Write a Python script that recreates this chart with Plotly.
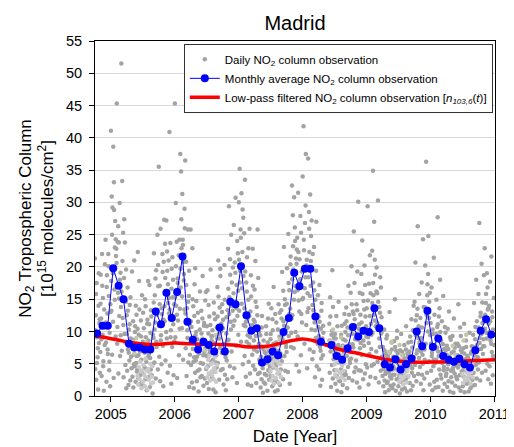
import calendar
import pandas as pd
import plotly.graph_objects as go

# ---------------- data ----------------
MONTHS = [f"{y}-{m:02d}" for y in range(2004, 2011) for m in range(1, 13)
          if (y, m) >= (2004, 10)]

MONTHLY = [9.7, 10.9, 10.9,
           19.8, 17.1, 15.0, 8.1, 7.5, 7.5, 7.2, 7.2, 13.1, 11.1, 16.0, 12.1,
           16.1, 21.6, 11.5, 8.7, 7.2, 8.4, 7.9, 6.9, 10.6, 6.9, 14.6, 14.2,
           20.1, 12.5, 10.1, 10.5, 5.2, 5.7, 6.9, 6.3, 9.9, 12.1, 19.1, 17.0,
           19.7, 19.7, 12.3, 8.4, None, 7.9, 6.2, 5.6, 7.4, 10.7, 9.2, 10.1,
           9.9, 13.6, 10.5, 4.9, 4.4, 5.7, 4.1, 4.9, 5.8, 10.0, 7.7, 13.2,
           7.6, 8.9, 6.2, 5.6, 5.3, 5.8, 4.9, 4.4, 7.1, 10.1, 11.9, 9.5]

LOWPASS_DATES = ["2004-10-03", "2004-12-15", "2005-03-15", "2005-06-15", "2005-09-15",
                 "2005-12-31", "2006-04-01", "2006-08-01", "2006-12-01", "2007-03-01",
                 "2007-06-15", "2007-09-15", "2007-12-31", "2008-03-01", "2008-05-15",
                 "2008-08-01", "2008-11-15", "2009-04-15", "2009-08-15", "2010-01-01",
                 "2010-06-01", "2011-01-05"]
LOWPASS = [9.3, 9.0, 8.5, 8.1, 8.0, 8.2, 8.1, 8.0, 7.9, 7.6, 7.7, 8.3, 8.85, 8.6,
           7.9, 7.2, 6.6, 5.7, 5.3, 5.25, 5.35, 5.6]

DAILY = {
    "2004-10": [21.3, 4.2, 12.5, 2.5, 17.5, 9.1, 6.0, 1.0, 14.0, 8.2, 11.3, 3.6],
    "2004-11": [6.8, 18.8, 12.0, 3.1, 22.0, 9.5, 15.2, 5.4, 0.8, 13.4, 7.9, 10.6],
    "2004-12": [24.2, 8.3, 2.2, 18.7, 12.8, 6.5, 22.0, 15.5, 4.0, 9.8, 1.5, 13.0],
    "2005-01": [41.1, 13.2, 30.9, 6.4, 29.2, 19.0, 38.6, 2.8, 28.8, 16.5, 23.0, 27.1, 9.2, 21.7],
    "2005-02": [22.8, 45.3, 8.1, 23.9, 16.0, 3.5, 23.8, 12.4, 29.9, 6.2, 19.1, 13.8],
    "2005-03": [51.5, 7.0, 33.3, 12.1, 25.3, 2.9, 18.3, 9.6, 23.8, 4.8, 14.6, 1.2],
    "2005-04": [12.5, 3.9, 16.8, 7.2, 1.7, 10.3, 5.5, 14.1, 2.4, 8.9, 6.1, 4.3],
    "2005-05": [19.3, 3.0, 8.7, 1.3, 6.4, 21.0, 4.6, 10.8, 2.2, 5.1, 12.6, 3.8],
    "2005-06": [4.1, 22.3, 2.8, 9.5, 17.8, 1.8, 6.9, 3.3, 11.7, 5.6, 2.1, 8.0],
    "2005-07": [3.5, 12.9, 1.6, 7.8, 4.4, 15.0, 2.6, 9.1, 5.3, 0.9, 11.2, 6.0],
    "2005-08": [17.8, 2.9, 6.5, 17.2, 1.4, 9.8, 4.1, 12.3, 3.2, 7.4, 0.4, 5.0],
    "2005-09": [9.0, 22.1, 5.2, 15.6, 11.4, 2.7, 19.5, 7.6, 13.3, 25.0, 4.1, 17.0],
    "2005-10": [35.5, 6.1, 14.2, 2.3, 25.9, 9.4, 4.9, 12.7, 22.0, 7.8, 1.5, 20.8],
    "2005-11": [27.3, 11.6, 23.6, 5.5, 16.2, 27.2, 8.9, 19.4, 3.6, 14.4, 21.0, 12.8],
    "2005-12": [40.9, 4.7, 23.7, 10.2, 1.9, 19.7, 7.6, 15.3, 18.0, 3.2, 12.0, 8.5],
    "2006-01": [45.3, 9.1, 29.9, 14.0, 23.9, 2.8, 18.2, 11.7, 16.4, 6.3, 24.2, 13.5],
    "2006-02": [37.5, 16.8, 34.8, 22.9, 10.5, 31.3, 24.2, 5.6, 20.8, 18.9, 13.4, 26.0],
    "2006-03": [36.5, 7.4, 20.8, 3.1, 13.6, 9.0, 25.8, 5.2, 15.5, 1.4, 11.1, 8.3],
    "2006-04": [25.8, 4.8, 10.7, 2.1, 22.9, 7.3, 13.9, 1.2, 6.0, 17.3, 3.6, 9.4],
    "2006-05": [5.5, 14.7, 2.3, 8.8, 3.9, 11.5, 0.7, 6.6, 4.1, 16.2, 2.9, 7.9],
    "2006-06": [13.2, 3.1, 8.4, 18.6, 5.0, 1.6, 10.9, 6.8, 2.7, 14.8, 7.5, 4.2],
    "2006-07": [6.2, 2.0, 16.4, 4.6, 9.7, 1.1, 12.3, 7.1, 3.4, 19.6, 5.3, 8.6],
    "2006-08": [2.9, 10.2, 5.6, 1.0, 14.5, 7.0, 3.8, 11.9, 0.6, 6.3, 4.4, 8.9],
    "2006-09": [16.9, 5.1, 21.0, 9.6, 2.5, 13.7, 7.4, 18.6, 4.0, 11.2, 6.7, 14.2],
    "2006-10": [4.2, 11.8, 1.8, 8.1, 20.3, 3.3, 6.5, 0.9, 9.7, 5.5, 2.6, 13.3],
    "2006-11": [22.8, 8.7, 29.4, 15.3, 4.6, 18.8, 11.5, 25.0, 6.9, 14.0, 2.9, 19.9],
    "2006-12": [10.9, 26.5, 4.3, 20.7, 14.6, 30.7, 7.8, 17.2, 2.0, 12.4, 22.1, 9.5],
    "2007-01": [30.0, 13.2, 35.2, 19.4, 25.8, 8.4, 31.4, 16.7, 22.3, 4.9, 27.6, 11.0],
    "2007-02": [25.2, 6.2, 33.5, 10.8, 3.0, 17.6, 8.4, 21.5, 12.0, 1.8, 14.9, 5.3],
    "2007-03": [8.0, 25.9, 3.5, 13.1, 18.7, 1.6, 10.2, 6.4, 22.8, 4.7, 11.8, 7.2],
    "2007-04": [16.5, 4.1, 20.9, 9.3, 2.0, 13.8, 6.9, 25.8, 3.4, 10.7, 8.1, 5.6],
    "2007-05": [3.6, 9.4, 1.3, 6.1, 2.6, 12.4, 4.8, 0.5, 7.3, 2.1, 5.0, 3.4],
    "2007-06": [1.9, 6.6, 10.8, 3.2, 5.1, 0.8, 8.3, 4.0, 14.3, 2.5, 6.9, 3.8],
    "2007-07": [8.8, 3.1, 13.6, 5.7, 1.5, 10.2, 4.4, 16.9, 2.3, 7.4, 0.7, 6.0],
    "2007-08": [4.6, 11.4, 2.2, 7.9, 0.9, 5.3, 14.2, 3.5, 9.2, 1.7, 6.6, 4.1],
    "2007-09": [13.3, 5.4, 19.2, 8.7, 2.6, 11.6, 23.1, 6.2, 15.0, 3.9, 10.4, 7.6],
    "2007-10": [6.8, 19.8, 11.9, 3.7, 25.1, 9.3, 16.4, 1.9, 13.5, 21.6, 7.6, 12.0],
    "2007-11": [32.6, 12.5, 28.0, 19.6, 7.4, 30.8, 16.1, 24.0, 9.9, 21.3, 4.8, 22.7],
    "2007-12": [24.5, 9.2, 31.5, 14.8, 3.8, 21.2, 17.6, 27.9, 6.3, 12.7, 19.3, 15.0],
    "2008-01": [34.0, 15.2, 41.8, 22.6, 8.1, 26.8, 18.4, 37.5, 11.0, 21.1, 4.3, 15.9],
    "2008-02": [36.8, 13.6, 28.5, 22.3, 7.2, 31.2, 17.1, 24.8, 10.3, 19.6, 5.7, 22.0],
    "2008-03": [17.6, 6.8, 23.1, 11.4, 2.9, 14.9, 9.0, 27.0, 4.6, 12.5, 8.1, 10.7],
    "2008-04": [12.3, 4.1, 17.2, 7.6, 1.6, 10.4, 5.8, 14.4, 2.5, 8.9, 6.3, 9.8],
    "2008-06": [11.2, 3.6, 15.3, 6.9, 1.4, 9.5, 4.8, 19.5, 2.7, 8.2, 5.7, 6.4],
    "2008-07": [4.0, 9.6, 1.9, 6.8, 12.4, 3.1, 0.8, 7.7, 5.2, 14.6, 2.4, 5.9],
    "2008-08": [2.3, 7.4, 4.1, 0.6, 10.9, 5.5, 1.7, 8.8, 3.2, 6.3, 12.7, 3.8],
    "2008-09": [9.9, 3.3, 13.7, 6.2, 1.2, 10.6, 4.5, 17.1, 2.8, 8.0, 5.6, 6.8],
    "2008-10": [16.0, 5.8, 20.1, 9.6, 2.4, 13.1, 7.5, 25.5, 3.7, 11.9, 8.8, 4.4],
    "2008-11": [5.5, 14.2, 2.1, 19.3, 8.7, 30.1, 4.0, 11.1, 1.3, 7.4, 12.6, 3.9],
    "2008-12": [18.9, 6.3, 24.1, 10.0, 2.6, 14.7, 7.8, 20.2, 3.5, 12.3, 4.9, 9.2],
    "2009-01": [13.6, 4.4, 29.4, 9.1, 1.8, 17.4, 6.5, 21.8, 3.0, 11.2, 7.3, 4.7],
    "2009-02": [22.5, 9.8, 34.9, 15.6, 4.9, 27.0, 11.7, 18.8, 2.8, 13.4, 6.9, 19.9],
    "2009-03": [15.9, 5.3, 30.3, 10.4, 2.1, 13.8, 7.6, 18.4, 3.9, 9.7, 12.2, 6.1],
    "2009-04": [3.1, 7.6, 1.5, 5.2, 10.3, 2.4, 0.6, 6.4, 3.8, 8.9, 2.0, 4.7],
    "2009-05": [2.2, 6.1, 0.9, 4.5, 13.0, 3.0, 1.6, 5.3, 2.7, 7.2, 1.2, 4.1],
    "2009-06": [4.6, 1.8, 8.5, 3.3, 15.0, 5.9, 0.8, 7.0, 2.6, 10.1, 4.0, 5.2],
    "2009-07": [1.5, 5.7, 3.0, 0.4, 7.1, 2.2, 9.6, 4.4, 1.0, 3.6, 6.3, 2.8],
    "2009-08": [3.4, 7.9, 1.2, 5.5, 2.5, 10.8, 4.2, 0.7, 6.6, 3.0, 8.3, 4.8],
    "2009-09": [6.4, 2.0, 9.2, 4.6, 0.9, 11.9, 3.6, 7.5, 1.6, 5.4, 14.0, 3.1],
    "2009-10": [14.6, 4.8, 20.7, 9.4, 2.3, 12.5, 7.1, 26.3, 3.4, 10.8, 5.9, 8.2],
    "2009-11": [4.5, 12.1, 1.9, 9.0, 17.6, 3.3, 6.4, 24.3, 0.9, 7.8, 2.7, 5.6],
    "2009-12": [20.2, 8.1, 36.3, 12.6, 3.6, 17.3, 10.0, 24.8, 5.4, 14.6, 1.8, 9.4],
    "2010-01": [11.3, 3.9, 16.8, 6.7, 0.9, 9.6, 4.6, 21.4, 2.2, 7.9, 5.1, 1.3],
    "2010-02": [5.6, 14.9, 2.5, 10.7, 27.7, 6.9, 1.4, 12.3, 4.1, 8.5, 18.0, 3.3],
    "2010-03": [8.6, 2.7, 11.6, 5.1, 0.8, 15.5, 4.0, 7.3, 1.9, 6.2, 9.8, 3.1],
    "2010-04": [3.5, 7.8, 1.4, 10.4, 4.9, 2.3, 13.1, 6.1, 0.7, 5.4, 8.7, 2.9],
    "2010-05": [6.7, 2.1, 9.3, 3.9, 0.5, 12.0, 4.7, 7.5, 1.6, 5.8, 3.0, 6.3],
    "2010-06": [2.6, 8.1, 4.4, 14.2, 1.3, 6.0, 3.2, 10.6, 0.8, 7.1, 5.0, 6.8],
    "2010-07": [4.8, 1.5, 7.4, 3.0, 11.2, 0.6, 5.7, 2.3, 8.6, 3.8, 1.9, 6.2],
    "2010-08": [2.0, 5.9, 0.7, 4.1, 9.8, 2.9, 1.2, 6.6, 3.5, 7.7, 1.6, 4.6],
    "2010-09": [9.5, 3.6, 14.4, 6.3, 1.7, 10.7, 4.8, 18.0, 2.7, 7.9, 5.2, 4.1],
    "2010-10": [15.8, 5.2, 26.8, 9.0, 2.4, 12.9, 7.3, 20.5, 3.6, 11.3, 6.5, 8.8],
    "2010-11": [18.7, 7.7, 22.9, 12.6, 3.9, 15.8, 9.8, 19.0, 5.0, 13.4, 2.6, 11.2],
    "2010-12": [14.0, 4.6, 17.7, 8.6, 1.9, 21.6, 6.8, 12.2, 3.2, 10.3, 5.7, 7.9],
}

# further daily observations (second overpass set)
DAILY_B = {
    "2004-10": [10.2, 15.8, 5.1, 7.4, 19.0, 11.9],
    "2004-11": [14.3, 8.8, 17.1, 4.6, 11.2, 20.4],
    "2004-12": [11.4, 16.9, 7.2, 20.1, 5.3, 14.2],
    "2005-01": [17.8, 25.0, 11.5, 33.1, 14.9, 24.3],
    "2005-02": [20.6, 10.7, 26.3, 15.1, 18.0, 9.4],
    "2005-03": [16.2, 20.9, 11.0, 27.4, 8.3, 19.6],
    "2005-04": [9.6, 13.2, 6.7, 11.1, 15.3, 8.0],
    "2005-05": [7.5, 11.6, 4.9, 9.9, 14.0, 6.2],
    "2005-06": [10.4, 6.3, 13.4, 7.1, 9.2, 15.6],
    "2005-07": [8.4, 10.5, 6.7, 13.9, 4.2, 11.8],
    "2005-08": [8.6, 11.1, 5.9, 13.3, 7.8, 9.5],
    "2005-09": [14.5, 10.3, 18.2, 8.4, 12.6, 20.3],
    "2005-10": [10.9, 17.1, 8.6, 13.6, 19.2, 11.8],
    "2005-11": [13.9, 18.3, 9.9, 22.4, 17.3, 15.2],
    "2005-12": [13.4, 9.1, 16.6, 21.5, 11.1, 14.2],
    "2006-01": [15.3, 20.1, 12.6, 17.5, 21.8, 10.4],
    "2006-02": [19.7, 27.4, 15.4, 23.4, 17.9, 29.0],
    "2006-03": [12.8, 17.2, 10.2, 14.6, 19.4, 6.4],
    "2006-04": [11.6, 8.5, 15.0, 5.3, 12.4, 19.8],
    "2006-05": [9.9, 6.1, 12.9, 7.4, 10.3, 5.1],
    "2006-06": [9.7, 12.0, 6.3, 11.3, 8.0, 16.1],
    "2006-07": [10.8, 7.7, 14.1, 6.6, 11.0, 9.2],
    "2006-08": [9.3, 6.8, 12.8, 8.2, 5.2, 10.6],
    "2006-09": [12.3, 15.4, 8.9, 19.7, 10.0, 13.0],
    "2006-10": [10.5, 7.2, 14.9, 6.0, 12.2, 8.6],
    "2006-11": [16.6, 12.7, 21.2, 10.3, 17.6, 13.2],
    "2006-12": [15.9, 11.7, 19.1, 13.6, 24.0, 16.3],
    "2007-01": [21.1, 17.6, 24.5, 14.3, 28.9, 18.6],
    "2007-02": [13.6, 19.3, 11.5, 16.2, 9.4, 22.9],
    "2007-03": [12.4, 9.1, 15.4, 11.0, 17.1, 8.6],
    "2007-04": [11.5, 14.6, 7.6, 12.5, 18.3, 9.9],
    "2007-05": [7.8, 5.5, 10.6, 4.3, 8.6, 6.8],
    "2007-06": [7.5, 9.6, 5.8, 12.0, 7.0, 4.6],
    "2007-07": [9.6, 6.4, 11.9, 8.1, 5.0, 12.7],
    "2007-08": [8.3, 5.9, 10.3, 7.0, 12.9, 6.1],
    "2007-09": [12.0, 9.3, 16.3, 10.9, 14.1, 8.1],
    "2007-10": [14.3, 10.6, 17.5, 12.8, 20.4, 9.8],
    "2007-11": [18.1, 23.2, 14.9, 26.1, 17.0, 20.5],
    "2007-12": [16.4, 22.3, 13.1, 18.1, 25.3, 11.4],
    "2008-01": [19.5, 24.2, 16.7, 29.5, 20.2, 13.0],
    "2008-02": [18.4, 25.9, 15.5, 20.9, 27.2, 14.1],
    "2008-03": [13.3, 16.4, 10.2, 19.4, 12.0, 15.6],
    "2008-04": [9.3, 11.5, 7.0, 13.2, 8.4, 10.9],
    "2008-06": [8.6, 12.3, 7.5, 10.1, 13.8, 9.0],
    "2008-07": [7.1, 8.9, 6.2, 10.8, 7.9, 5.5],
    "2008-08": [6.0, 9.5, 4.9, 7.8, 6.8, 11.2],
    "2008-09": [8.6, 11.6, 7.2, 9.4, 12.6, 5.1],
    "2008-10": [10.4, 14.2, 8.0, 12.7, 17.5, 10.9],
    "2008-11": [9.6, 13.3, 6.6, 10.4, 16.0, 8.2],
    "2008-12": [11.4, 15.8, 8.6, 13.4, 17.2, 10.8],
    "2009-01": [10.3, 14.8, 8.2, 12.4, 15.9, 9.5],
    "2009-02": [14.4, 17.5, 12.6, 21.1, 10.8, 16.2],
    "2009-03": [11.3, 14.6, 8.9, 12.9, 16.8, 10.0],
    "2009-04": [5.8, 4.2, 7.1, 3.4, 6.6, 9.4],
    "2009-05": [5.0, 3.6, 6.7, 4.8, 8.3, 3.3],
    "2009-06": [6.1, 4.3, 7.6, 5.4, 9.0, 6.6],
    "2009-07": [4.9, 3.3, 5.3, 4.1, 6.8, 2.5],
    "2009-08": [5.8, 4.5, 7.2, 3.9, 6.1, 5.1],
    "2009-09": [6.9, 5.0, 8.4, 4.3, 10.2, 6.0],
    "2009-10": [9.9, 11.7, 6.6, 13.5, 9.0, 15.8],
    "2009-11": [8.4, 6.9, 10.6, 5.0, 13.8, 7.2],
    "2009-12": [13.7, 11.3, 15.6, 18.9, 12.1, 16.0],
    "2010-01": [8.1, 6.2, 10.3, 5.6, 12.6, 7.4],
    "2010-02": [9.6, 7.5, 11.1, 6.2, 13.6, 9.9],
    "2010-03": [6.8, 5.4, 8.0, 4.5, 10.7, 7.1],
    "2010-04": [6.4, 4.2, 7.3, 5.8, 9.1, 3.9],
    "2010-05": [5.5, 4.3, 6.9, 3.5, 8.1, 5.0],
    "2010-06": [6.3, 4.8, 7.7, 5.6, 9.3, 3.8],
    "2010-07": [5.3, 4.1, 6.6, 2.7, 7.6, 5.0],
    "2010-08": [4.9, 3.1, 5.5, 4.3, 6.9, 2.5],
    "2010-09": [7.6, 5.6, 8.8, 6.8, 11.6, 6.0],
    "2010-10": [10.6, 8.2, 12.3, 9.6, 14.5, 7.7],
    "2010-11": [12.2, 10.4, 14.4, 8.9, 16.8, 13.6],
    "2010-12": [9.9, 11.6, 8.1, 13.1, 6.2, 15.2],
}

# pale summer clusters of daily observations
DAILY_PALE = {
    "2005-06": [3.1, 1.8, 4.5, 2.6, 5.3, 3.8, 1.2, 4.0],
    "2005-07": [2.2, 4.8, 3.3, 1.5, 5.8, 2.9, 3.9, 1.0],
    "2005-08": [4.2, 2.5, 3.6, 5.0, 1.9, 3.0, 4.6, 2.1],
    "2006-07": [4.4, 2.9, 5.6, 3.5, 6.2, 2.4, 4.9, 3.8],
    "2006-08": [3.2, 5.1, 2.6, 4.3, 6.0, 3.7, 2.2, 4.8],
    "2007-07": [3.9, 2.4, 5.0, 3.1, 4.6, 1.9, 5.5, 2.8],
    "2007-08": [2.7, 4.2, 3.5, 5.3, 2.0, 3.8, 4.9, 3.0],
    "2008-07": [4.9, 3.3, 6.1, 4.0, 5.4, 2.8, 6.6, 3.7],
    "2008-08": [3.6, 5.8, 2.9, 4.7, 6.3, 3.9, 5.1, 2.5],
    "2009-07": [3.8, 2.2, 4.9, 3.0, 5.5, 2.6, 4.3, 1.8],
    "2009-08": [2.9, 4.6, 3.4, 5.2, 2.1, 3.9, 4.4, 3.1],
    "2010-07": [3.4, 2.0, 4.7, 2.8, 5.3, 2.4, 4.1, 3.6],
    "2010-08": [2.6, 4.3, 3.2, 5.0, 1.9, 3.7, 4.8, 2.9],
}

DAILY_TAN = {
    "2005-05": [8.4, 6.6, 9.0],
    "2005-07": [7.2, 8.3],
    "2006-06": [8.9, 7.1],
    "2006-08": [8.0, 9.4],
    "2007-06": [7.4, 6.2],
    "2007-08": [7.9, 8.8],
    "2008-06": [8.6, 10.3],
    "2008-08": [9.1, 7.6],
    "2009-05": [6.8, 8.4],
    "2009-07": [7.9, 6.3],
    "2010-05": [7.8, 6.4],
    "2010-07": [8.6, 9.5],
}

YEAR_TICKS = ["2005", "2006", "2007", "2008", "2009", "2010", "2011"]


def spread(table):
    xs, ys = [], []
    for key, vals in table.items():
        y, m = map(int, key.split("-"))
        dim = calendar.monthrange(y, m)[1]
        start = pd.Timestamp(y, m, 1)
        n = len(vals)
        for i, v in enumerate(vals):
            xs.append(start + pd.Timedelta(days=(i + 0.5) * dim / n))
            ys.append(v)
    return xs, ys


month_x = [pd.Timestamp(k + "-15") for k in MONTHS]

FONT = "Liberation Sans, Arial, sans-serif"
fig = go.Figure()

dx, dy = spread(DAILY)
bx, by = spread(DAILY_B)
fig.add_trace(go.Scatter(x=dx + bx, y=dy + by, mode="markers",
                         name="Daily NO<sub>2</sub> column observation",
                         marker=dict(color="#a3a3a3", size=4.5), legendrank=1))
px_, py_ = spread(DAILY_PALE)
fig.add_trace(go.Scatter(x=px_, y=py_, mode="markers", showlegend=False,
                         marker=dict(color="#cacaca", size=4.5)))
tx, ty = spread(DAILY_TAN)
fig.add_trace(go.Scatter(x=tx, y=ty, mode="markers", showlegend=False,
                         marker=dict(color="#c6c6a8", size=4.5)))

fig.add_trace(go.Scatter(x=pd.to_datetime(LOWPASS_DATES), y=LOWPASS, mode="lines",
                         name="Low-pass filtered NO<sub>2</sub> column observation [<i>n</i><sub><i>103,6</i></sub>(<i>t</i>)]",
                         line=dict(color="#ff0000", width=3.5, shape="spline", smoothing=1.0),
                         legendrank=3))
fig.add_trace(go.Scatter(x=month_x, y=MONTHLY, mode="lines+markers", connectgaps=True,
                         name="Monthly average NO<sub>2</sub> column observation",
                         line=dict(color="#0000ff", width=1),
                         marker=dict(color="#0000ff", size=8), legendrank=2))

fig.update_layout(
    width=514, height=447,
    margin=dict(l=87, r=19, t=33, b=59),
    plot_bgcolor="white", paper_bgcolor="white",
    font=dict(family=FONT, color="black", size=15),
    title=dict(text="Madrid", x=0.5, xref="paper", xanchor="center",
               y=1 - 15 / 447, yref="container", yanchor="middle",
               font=dict(size=20, family=FONT)),
    legend=dict(x=0.222, y=0.992, xanchor="left", yanchor="top",
                bgcolor="white", bordercolor="#333333", borderwidth=1,
                font=dict(size=11.5, family=FONT), tracegroupgap=0),
    showlegend=True,
    annotations=[dict(
        text="NO<sub>2</sub> Tropospheric Column<br>[10<sup>15</sup> molecules/cm<sup>2</sup>]",
        textangle=-90, xref="paper", yref="paper",
        x=(27 - 87) / 408, y=0.5, xanchor="center", yanchor="middle",
        showarrow=False, font=dict(size=17, family=FONT))],
)

fig.update_xaxes(
    range=["2004-10-03", "2011-01-05"],
    tickvals=pd.to_datetime([t + "-01-01" for t in YEAR_TICKS]), ticktext=YEAR_TICKS,
    ticks="outside", ticklen=5, tickcolor="black",
    showline=True, linecolor="black", linewidth=1, mirror=True,
    showgrid=False, zeroline=False,
    title=dict(text="Date [Year]", font=dict(size=17), standoff=8),
    tickfont=dict(size=14.5),
)
fig.update_yaxes(
    range=[0, 55], tick0=0, dtick=5,
    ticks="outside", ticklen=5, tickcolor="black", ticklabelstandoff=4,
    showline=True, linecolor="black", linewidth=1, mirror=True,
    showgrid=True, gridcolor="#d9d9d9", gridwidth=1, zeroline=False,
    tickfont=dict(size=14.5),
)

fig.write_html("out.html")
